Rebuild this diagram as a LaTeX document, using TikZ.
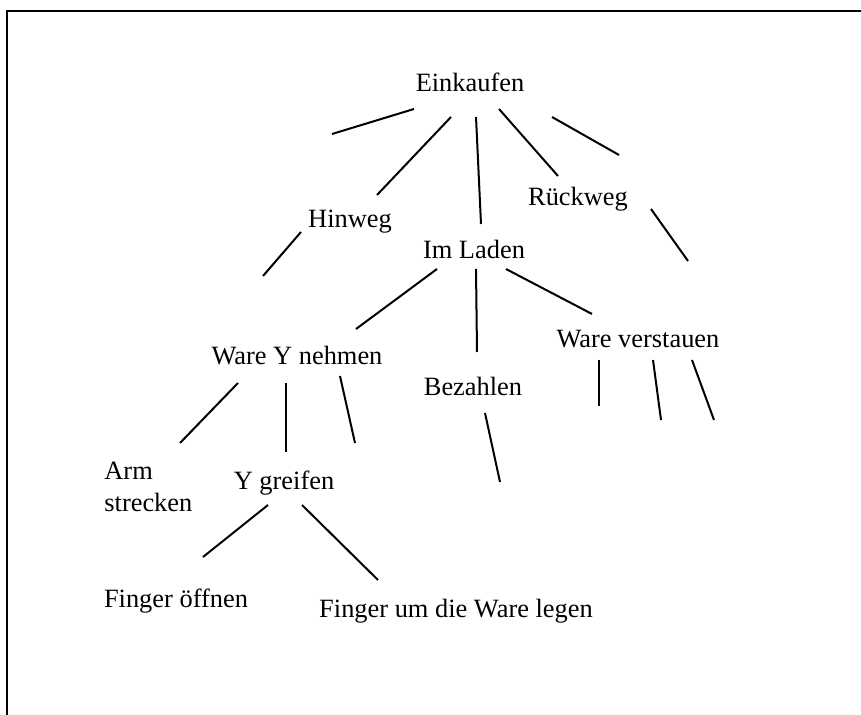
\documentclass[tikz,border=0pt]{standalone}
\usepackage{fontspec}
\setmainfont{Liberation Serif}
\usetikzlibrary{positioning}

\begin{document}
\begin{tikzpicture}[
      x=0.5pt, y=-0.5pt,
      mylabel/.style={
         anchor=base,
         inner sep=0pt,
         font=\fontsize{13.2}{16}\selectfont},
      myline/.style={line width=1pt},
      ]
      \useasboundingbox (0,0) rectangle (861,715);
      \draw[myline] (861,11) -- (7,11) -- (7,715);

      \node[mylabel] (einkaufen) at (470,92)  {Einkaufen};
      \node[mylabel] (hinweg)    at (350,228) {Hinweg};
      \node[mylabel] (rueckweg)  at (578,206) {Rückweg};
      \node[mylabel] (imladen)   at (474,259) {Im Laden};
      \node[mylabel] (wareY)     at (297,365) {Ware Y nehmen};
      \node[mylabel] (bezahlen)  at (473,396) {Bezahlen};
      \node[mylabel] (verstauen) at (638,348) {Ware verstauen};
      \node[mylabel,anchor=base west,align=left] (arm) at (104,511) {Arm\\strecken};
      \node[mylabel] (greifen)   at (284,489) {Y greifen};
      \node[mylabel] (oeffnen)   at (176,607) {Finger öffnen};
      \node[mylabel] (legen)     at (456,617) {Finger um die Ware legen};

    \foreach \n/\a/\b in {% name/start/end
      ek1/{332,134}/{414,109},
      ek2/{451,117}/{377,195},
      ek3/{476,117}/{481,224},
      ek4/{499,109}/{558,176},
      ek5/{552,117}/{619,155},
      hw/{301,232}/{263,276},
      rw/{651,209}/{688,261},
      il1/{437,269}/{356,329},
      il2/{476,269}/{477,352},
      il3/{506,269}/{592,314},
      wy1/{238,383}/{180,443},
      wy2/{286,383}/{286,452},
      wy3/{340,376}/{355,443},
      bz/{485,413}/{500,482},
      wv1/{599,360}/{599,406},
      wv2/{653,360}/{661,420},
      wv3/{692,360}/{714,420},
      yg1/{268,505}/{203,557},
      yg2/{302,505}/{378,580}}
    {
      \coordinate (\n a) at (\a);
      \coordinate (\n b) at (\b);
      \draw[myline] (\n a) -- (\n b);
    }
\end{tikzpicture}
\end{document}
